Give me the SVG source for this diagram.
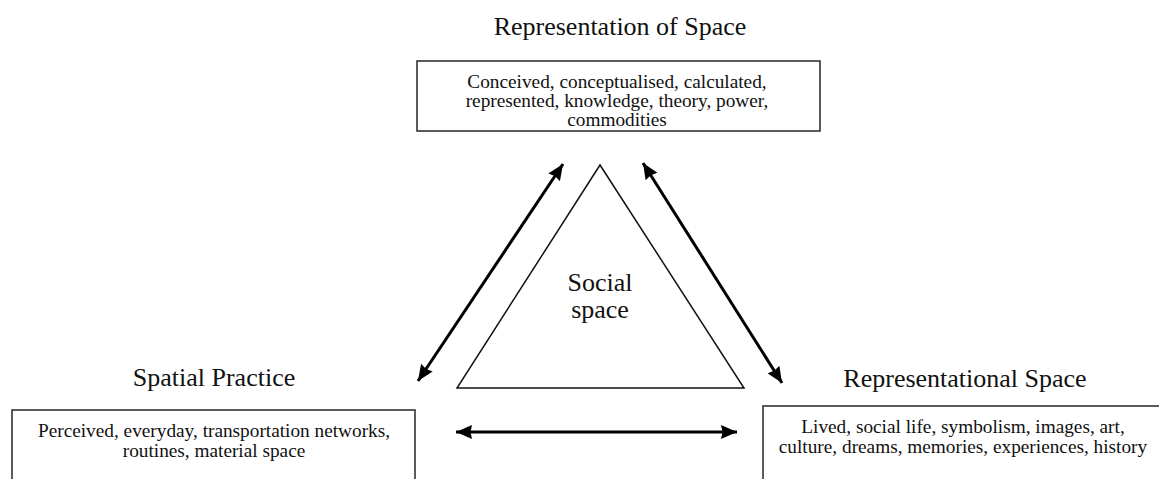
<svg xmlns="http://www.w3.org/2000/svg" width="1159" height="479" viewBox="0 0 1159 479">
<style>
.title{font-family:"Liberation Serif","Times New Roman",serif;font-size:26px;fill:#111;text-anchor:middle}
.body{font-family:"Liberation Serif","Times New Roman",serif;font-size:19.3px;fill:#111;text-anchor:middle}
.box{fill:#fff;stroke:#333;stroke-width:1.6}
.conn{stroke:#000;stroke-width:3;fill:none;marker-start:url(#ah);marker-end:url(#ah)}
</style>
<defs>
<marker id="ah" markerUnits="userSpaceOnUse" markerWidth="18" markerHeight="18" viewBox="0 0 18 18" refX="16" refY="9" orient="auto-start-reverse">
<path d="M0,2 L16,9 L0,16 L1.5,9 z" fill="#000"/>
</marker>
</defs>
<rect width="1159" height="479" fill="#fff"/>
<g id="social-space">
<polygon points="600,165 457,388 744,388" fill="none" stroke="#111" stroke-width="1.5"/>
<text class="title" x="600" y="291">Social</text>
<text class="title" x="600" y="318">space</text>
</g>
<g id="representation-of-space">
<text class="title" x="620" y="35">Representation of Space</text>
<rect class="box" x="417" y="61" width="403" height="70"/>
<text class="body" x="617" y="88">Conceived, conceptualised, calculated,</text>
<text class="body" x="617" y="107">represented, knowledge, theory, power,</text>
<text class="body" x="617" y="126">commodities</text>
</g>
<g id="spatial-practice">
<text class="title" x="214" y="386">Spatial Practice</text>
<rect class="box" x="12" y="410" width="403" height="80"/>
<text class="body" x="214" y="437">Perceived, everyday, transportation networks,</text>
<text class="body" x="214" y="457">routines, material space</text>
</g>
<g id="representational-space">
<text class="title" x="965" y="387">Representational Space</text>
<rect class="box" x="763" y="406" width="410" height="90"/>
<text class="body" x="963" y="433">Lived, social life, symbolism, images, art,</text>
<text class="body" x="963" y="453">culture, dreams, memories, experiences, history</text>
</g>
<g id="connectors">
<line class="conn" x1="418" y1="381" x2="563" y2="164"/>
<line class="conn" x1="643" y1="163" x2="782" y2="383"/>
<line class="conn" x1="456" y1="432" x2="737" y2="432"/>
</g>
</svg>
